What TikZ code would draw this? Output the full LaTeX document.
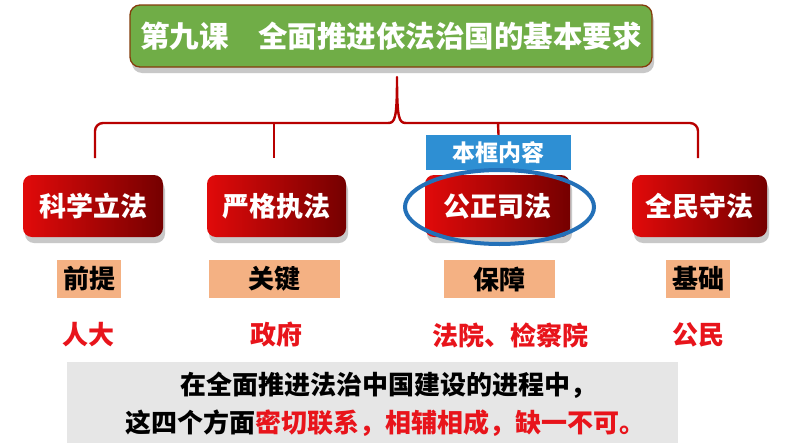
\documentclass[tikz,border=0pt]{standalone}
\usepackage{fontspec}
\newfontfamily\cjk{Noto Sans CJK SC}[BoldFont={Noto Sans CJK SC Black}]
\usetikzlibrary{shadows}
\definecolor{titlegreen}{HTML}{70AD47}
\definecolor{titleborder}{HTML}{843C0C}
\definecolor{redL}{HTML}{E10A0A}
\definecolor{redR}{HTML}{750000}
\definecolor{bracered}{HTML}{B80000}
\definecolor{tagblue}{HTML}{2E8FD3}
\definecolor{ringblue}{HTML}{2370B8}
\definecolor{tan}{HTML}{F4B183}
\definecolor{labelred}{HTML}{E8141B}
\definecolor{panelgray}{HTML}{E6E6E6}
\tikzset{
  fsz/.style={font=\cjk\bfseries\fontsize{#1}{#1}\selectfont},
  titlebox/.style={rounded corners=10pt, fill=titlegreen, draw=titleborder, line width=1.3pt,
    minimum width=522pt, minimum height=62pt, inner sep=0pt, text=white, fsz=29.5,
    drop shadow={shadow xshift=2pt, shadow yshift=-6pt, opacity=0.3, fill=black!70}},
  redbox/.style={rounded corners=9pt, minimum width=#1, minimum height=62pt, inner sep=0pt,
    left color=redL, right color=redR, text=white, fsz=27,
    drop shadow={shadow xshift=2pt, shadow yshift=-6pt, opacity=0.3, fill=black!70}},
  tagbox/.style={fill=tagblue, minimum width=145pt, minimum height=35pt, inner sep=0pt, text=white, fsz=23},
  tanbox/.style={fill=tan, minimum width=#1, minimum height=38pt, inner sep=0pt, text=black, fsz=26},
  redlabel/.style={text=labelred, inner sep=0pt, fsz=26},
  bodytext/.style={text=black, inner sep=0pt, fsz=26},
  bracket/.style={draw=bracered, line width=2.4pt},
  ring/.style={draw=ringblue, line width=4pt}
}
\begin{document}
\begin{tikzpicture}[x=1pt,y=-1pt]
\useasboundingbox[fill=white] (0,0) rectangle (794,447);

% title
\node[titlebox] (title) at (391,36) {第九课\hspace{1em}全面推进依法治国的基本要求};

% bracket
\coordinate (tip) at (397,77);
\coordinate (lend) at (95,158);
\coordinate (rend) at (698,158);
\coordinate (j2) at (274,123);
\coordinate (j2end) at (274,158);
\coordinate (j3) at (498,123);
\draw[bracket, line join=round] (lend) -- (95,131) arc[start angle=180, end angle=90, radius=8pt]
  -- (388,123) .. controls (395,123) and (397,119) .. (tip)
  .. controls (397,119) and (399,123) .. (406,123)
  -- (690,123) arc[start angle=90, end angle=0, radius=8pt] -- (rend);
\draw[bracket] (j2) -- (j2end);

% red boxes
\node[redbox=140pt] (b1) at (93,206) {科学立法};
\node[redbox=139pt] (b2) at (276.5,206) {严格执法};
\node[redbox=145pt] (b3) at (497.5,206) {公正司法};
\node[redbox=135pt] (b4) at (699.5,206) {全民守法};

% tag
\node[tagbox] (tag) at (498.5,152.5) {本框内容};
\draw[bracket] (j3) -- (tag.north);

% ring
\draw[ring] (499.5,207) ellipse [x radius=94.5pt, y radius=37pt];

% tan labels
\node[tanbox=64pt] (t1) at (89,279) {前提};
\node[tanbox=131pt] (t2) at (274.5,279) {关键};
\node[tanbox=111pt] (t3) at (499.5,279) {保障};
\node[tanbox=64pt] (t4) at (698,279) {基础};

% red labels
\node[redlabel] (r1) at (88,335) {人大};
\node[redlabel] (r2) at (276,335) {政府};
\node[redlabel] (r3) at (510,335) {法院、检察院};
\node[redlabel] (r4) at (698,335) {公民};

% bottom panel
\fill[panelgray] (67,362) rectangle (678,443);
\node[bodytext] (l1) at (388,385) {在全面推进法治中国建设的进程中，};
\node[bodytext] (l2) at (385,423) {这四个方面\textcolor{labelred}{密切联系，相辅相成，缺一不可。}};
\end{tikzpicture}
\end{document}
